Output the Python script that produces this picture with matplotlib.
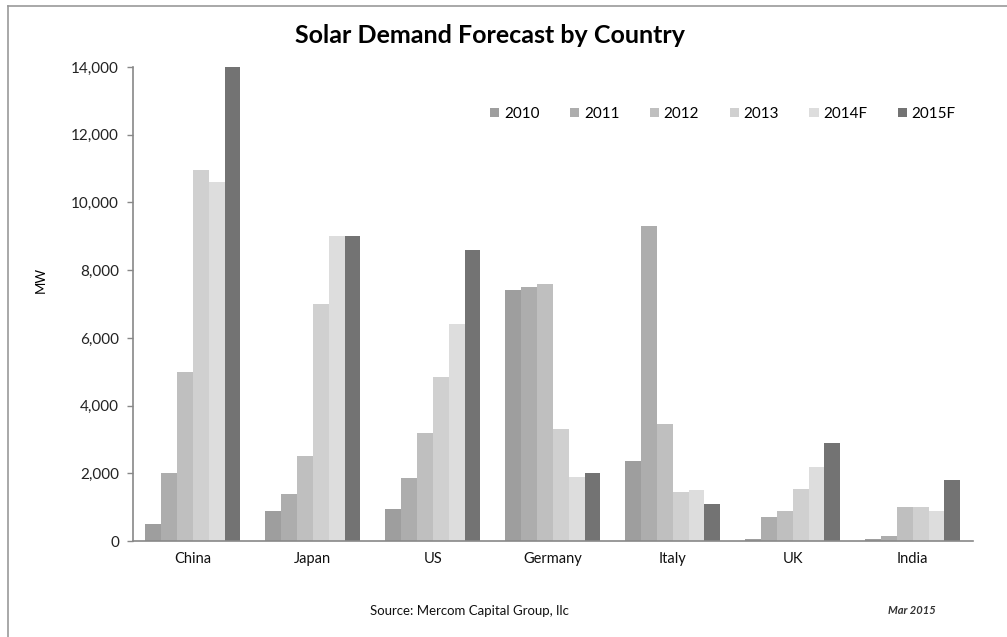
import numpy as np
import matplotlib
matplotlib.use("Agg")
import matplotlib.pyplot as plt
from matplotlib.patches import Patch
from matplotlib.lines import Line2D

plt.rcParams['font.family'] = ['Lato', 'DejaVu Sans']

# du lieu doc tu hinh
countries = ['China', 'Japan', 'US', 'Germany', 'Italy', 'UK', 'India']
years = ['2010', '2011', '2012', '2013', '2014F', '2015F']
mw_2010 = [500, 900, 950, 7400, 2350, 60, 60]
mw_2011 = [2000, 1400, 1850, 7500, 9300, 700, 150]
mw_2012 = [5000, 2500, 3200, 7600, 3450, 900, 1000]
mw_2013 = [10950, 7000, 4850, 3300, 1450, 1550, 1000]
mw_2014 = [10600, 9000, 6400, 1900, 1500, 2200, 900]
mw_2015 = [14000, 9000, 8600, 2000, 1100, 2900, 1800]
yticks = [0, 2000, 4000, 6000, 8000, 10000, 12000, 14000]

series = [mw_2010, mw_2011, mw_2012, mw_2013, mw_2014, mw_2015]
colors = ['#9e9e9e', '#adadad', '#bfbfbf', '#d0d0d0', '#dddddd', '#737373']

fig = plt.figure(figsize=(10.07, 6.37), dpi=100)
ax = fig.add_axes([0.132, 0.1507, 0.834, 0.744])

x = np.arange(len(countries))
w = 0.132
for i, (vals, c) in enumerate(zip(series, colors)):
    ax.bar(x + (i - 2.5) * w, vals, width=w, color=c, label=years[i])

ax.set_xlim(-0.5, len(countries) - 0.5)
ax.set_ylim(0, 14000)
ax.set_yticks(yticks)
ax.set_yticklabels(['{:,}'.format(v) for v in yticks], fontsize=11, color='#222222')
ax.set_xticks(x)
ax.set_xticklabels(countries, fontsize=10.5, color='#111111')
ax.tick_params(axis='x', length=0, pad=8)
ax.tick_params(axis='y', length=4, width=1, color='#888888', pad=6)

for s in ['top', 'right']:
    ax.spines[s].set_visible(False)
for s in ['left', 'bottom']:
    ax.spines[s].set_color('#888888')
    ax.spines[s].set_linewidth(1.2)

fig.text(0.040, 0.56, 'MW', rotation=90, ha='center', va='center', fontsize=9.5)
fig.text(0.487, 0.944, 'Solar Demand Forecast by Country', ha='center', va='center',
         fontsize=18, fontweight='bold')
fig.text(0.466, 0.041, 'Source: Mercom Capital Group, llc', ha='center', va='center',
         fontsize=9.5, color='#111111')
fig.text(0.906, 0.042, 'Mar 2015', ha='center', va='center', fontsize=8,
         fontstyle='italic', fontweight='bold', color='#333333')

handles = [Patch(facecolor=c, edgecolor='none') for c in colors]
fig.legend(handles, years, loc='center', bbox_to_anchor=(0.718, 0.821), ncol=6,
           frameon=False, fontsize=11, handlelength=0.6, handleheight=0.6,
           handletextpad=0.3, columnspacing=2.0)

# khung vien ngoai
fig.add_artist(Line2D([0.008, 0.008], [0, 0.991], transform=fig.transFigure,
                      color='#999999', lw=1.2))
fig.add_artist(Line2D([0.008, 1.0], [0.991, 0.991], transform=fig.transFigure,
                      color='#999999', lw=1.2))

fig.savefig('out.png', dpi=100)
